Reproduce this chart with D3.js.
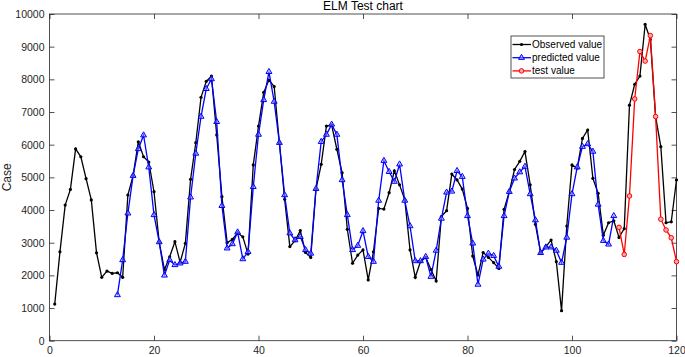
<!DOCTYPE html>
<html>
<head>
<meta charset="utf-8">
<script src="https://cdn.jsdelivr.net/npm/d3@7"></script>
<style>
  html, body { margin: 0; padding: 0; background: #fff; }
  svg { display: block; font-family: "Liberation Sans", Arial, sans-serif; }
</style>
</head>
<body>
<svg id="chart" width="685" height="357"></svg>
<script>
const observedStart = 1;
const observed = [1120,2720,4150,4630,5870,5630,4960,4310,2690,1940,
  2130,2060,2080,1940,4460,5050,6090,5630,5470,4560,
  3010,2170,2570,3030,2400,2980,4940,6060,7450,7940,
  8100,6300,4410,3000,3100,3300,3180,2650,5380,6570,
  7600,7980,7780,6060,4330,2880,3060,3370,2700,2550,
  4630,5400,6570,6600,5860,5140,3410,2370,2620,2780,
  1860,2720,4050,4030,4530,5200,4770,4310,2780,1940,
  2420,2550,2180,1830,3800,3980,5100,4920,4640,4050,
  2590,2010,2700,2550,2390,2210,4020,4560,5240,5490,
  5790,4770,3560,2690,2880,3080,2420,920,3510,5380,
  5280,6190,6450,4970,4510,3230,3610,3670,3160,3430,
  7210,7850,8100,9680,9220,6860,5940,3610,3640,4920];
const predictedStart = 13;
const predicted = [1400,2470,3900,5050,5870,6290,5310,3850,3020,2000,
  2470,2320,2370,2420,4390,5730,6860,7710,8010,6700,
  4130,2830,2960,3320,2500,2720,4710,6310,7370,8230,
  7320,6060,4460,3290,3080,3180,2780,2670,4650,6090,
  6310,6620,6310,4920,3850,2780,2910,3360,2570,2420,
  4290,5510,5170,4870,5400,4290,3510,2440,2440,2570,
  1960,2760,3740,4540,4570,5200,5020,3820,2980,1720,
  2490,2670,2600,2270,3820,4560,4970,5160,5330,4490,
  3690,2690,2860,2860,2760,2390,3160,4490,5310,5940,
  6020,5790,4170,3060,2950,3820];
const testStart = 109;
const testValues = [3470,2640,4430,7400,8850,8560,9340,6860,3720,3390,3150,2420];
const xTicks = [0,20,40,60,80,100,120];
const yTicks = [0,1000,2000,3000,4000,5000,6000,7000,8000,9000,10000];
const seriesNames = ["Observed value","predicted value","test value"];
const titleText = "ELM Test chart";
const yLabelText = "Case";

const toPts = (arr, start) => arr.map((v, i) => ({ t: start + i, v }));
const obsPts = toPts(observed, observedStart);
const predPts = toPts(predicted, predictedStart);
const testPts = toPts(testValues, testStart);

const L = 49.5, R = 676.5, T = 14, B = 340.7;
const svg = d3.select("#chart");
const x = d3.scaleLinear().domain([0, 120]).range([L, R]);
const y = d3.scaleLinear().domain([0, 10000]).range([B, T]);
const axisColor = "#262626";
const tick = 5;
const fmt = d3.format("d");

// axes
const gx = svg.append("g").attr("transform", `translate(0,${B})`)
  .call(d3.axisBottom(x).tickValues(xTicks).tickFormat(fmt).tickSizeInner(-tick).tickSizeOuter(0).tickPadding(4));
const gxTop = svg.append("g").attr("transform", `translate(0,${T})`)
  .call(d3.axisTop(x).tickValues(xTicks).tickSizeInner(-tick).tickSizeOuter(0).tickFormat(""));
const gy = svg.append("g").attr("transform", `translate(${L},0)`)
  .call(d3.axisLeft(y).tickValues(yTicks).tickFormat(fmt).tickSizeInner(-tick).tickSizeOuter(0).tickPadding(5));
const gyR = svg.append("g").attr("transform", `translate(${R},0)`)
  .call(d3.axisRight(y).tickValues(yTicks).tickSizeInner(-tick).tickSizeOuter(0).tickFormat(""));
[gx, gxTop, gy, gyR].forEach(g => {
  g.select(".domain").remove();
  g.selectAll("line").attr("stroke", axisColor).attr("stroke-width", 0.8);
  g.selectAll("text").attr("fill", axisColor).style("font-size", "10.5px")
    .style("font-family", "'Liberation Sans', Arial, sans-serif");
});
gx.selectAll("text").attr("dy", "0.85em");
svg.append("rect").attr("x", L).attr("y", T).attr("width", R - L).attr("height", B - T)
  .attr("fill", "none").attr("stroke", axisColor).attr("stroke-width", 0.8);

// title and label
svg.append("text").attr("x", (L + R) / 2).attr("y", 10).attr("text-anchor", "middle")
  .attr("fill", "#000").style("font-size", "12px").text(titleText);
svg.append("text").attr("transform", `translate(11,${(T + B) / 2}) rotate(-90)`)
  .attr("text-anchor", "middle").attr("fill", "#262626").style("font-size", "12px").text(yLabelText);

const line = d3.line().x(d => x(d.t)).y(d => y(d.v));
const plot = svg.append("g");

// observed
plot.append("path").datum(obsPts).attr("d", line).attr("fill", "none")
  .attr("stroke", "#000").attr("stroke-width", 1.3);
plot.selectAll(".obs").data(obsPts).join("circle").attr("class", "obs")
  .attr("cx", d => x(d.t)).attr("cy", d => y(d.v)).attr("r", 1.6).attr("fill", "#000");

// predicted
const tri = d3.symbol().type(d3.symbolTriangle).size(15);
plot.append("path").datum(predPts).attr("d", line).attr("fill", "none")
  .attr("stroke", "#0000ff").attr("stroke-width", 1.3);
plot.selectAll(".pred").data(predPts).join("path").attr("class", "pred")
  .attr("d", tri).attr("transform", d => `translate(${x(d.t)},${y(d.v)})`)
  .attr("fill", "#9999ff").attr("fill-opacity", 0.5).attr("stroke", "#0000ff").attr("stroke-width", 1);

// test
plot.append("path").datum(testPts).attr("d", line).attr("fill", "none")
  .attr("stroke", "#ff0000").attr("stroke-width", 1.3);
plot.selectAll(".tst").data(testPts).join("circle").attr("class", "tst")
  .attr("cx", d => x(d.t)).attr("cy", d => y(d.v)).attr("r", 2.3)
  .attr("fill", "#ffaaaa").attr("stroke", "#ff0000").attr("stroke-width", 1);

// legend
const lg = svg.append("g").attr("transform", "translate(511,36)");
lg.append("rect").attr("width", 93).attr("height", 42).attr("fill", "#fff")
  .attr("stroke", axisColor).attr("stroke-width", 0.8);
const rows = [
  { name: seriesNames[0], color: "#000", mark: "dot" },
  { name: seriesNames[1], color: "#0000ff", mark: "tri" },
  { name: seriesNames[2], color: "#ff0000", mark: "circ" }
];
rows.forEach((r, i) => {
  const yy = 8.5 + i * 13.2;
  lg.append("line").attr("x1", 1.5).attr("x2", 20).attr("y1", yy).attr("y2", yy)
    .attr("stroke", r.color).attr("stroke-width", 1.3);
  if (r.mark === "dot") lg.append("circle").attr("cx", 10.5).attr("cy", yy).attr("r", 1.6).attr("fill", r.color);
  if (r.mark === "tri") lg.append("path").attr("d", tri).attr("transform", `translate(10.5,${yy})`)
    .attr("fill", "#9999ff").attr("fill-opacity", 0.5).attr("stroke", r.color);
  if (r.mark === "circ") lg.append("circle").attr("cx", 10.5).attr("cy", yy).attr("r", 2.3)
    .attr("fill", "#ffaaaa").attr("stroke", r.color);
  lg.append("text").attr("x", 21).attr("y", yy).attr("dy", "0.35em").attr("fill", "#000")
    .style("font-size", "10px").text(r.name);
});
</script>
</body>
</html>
